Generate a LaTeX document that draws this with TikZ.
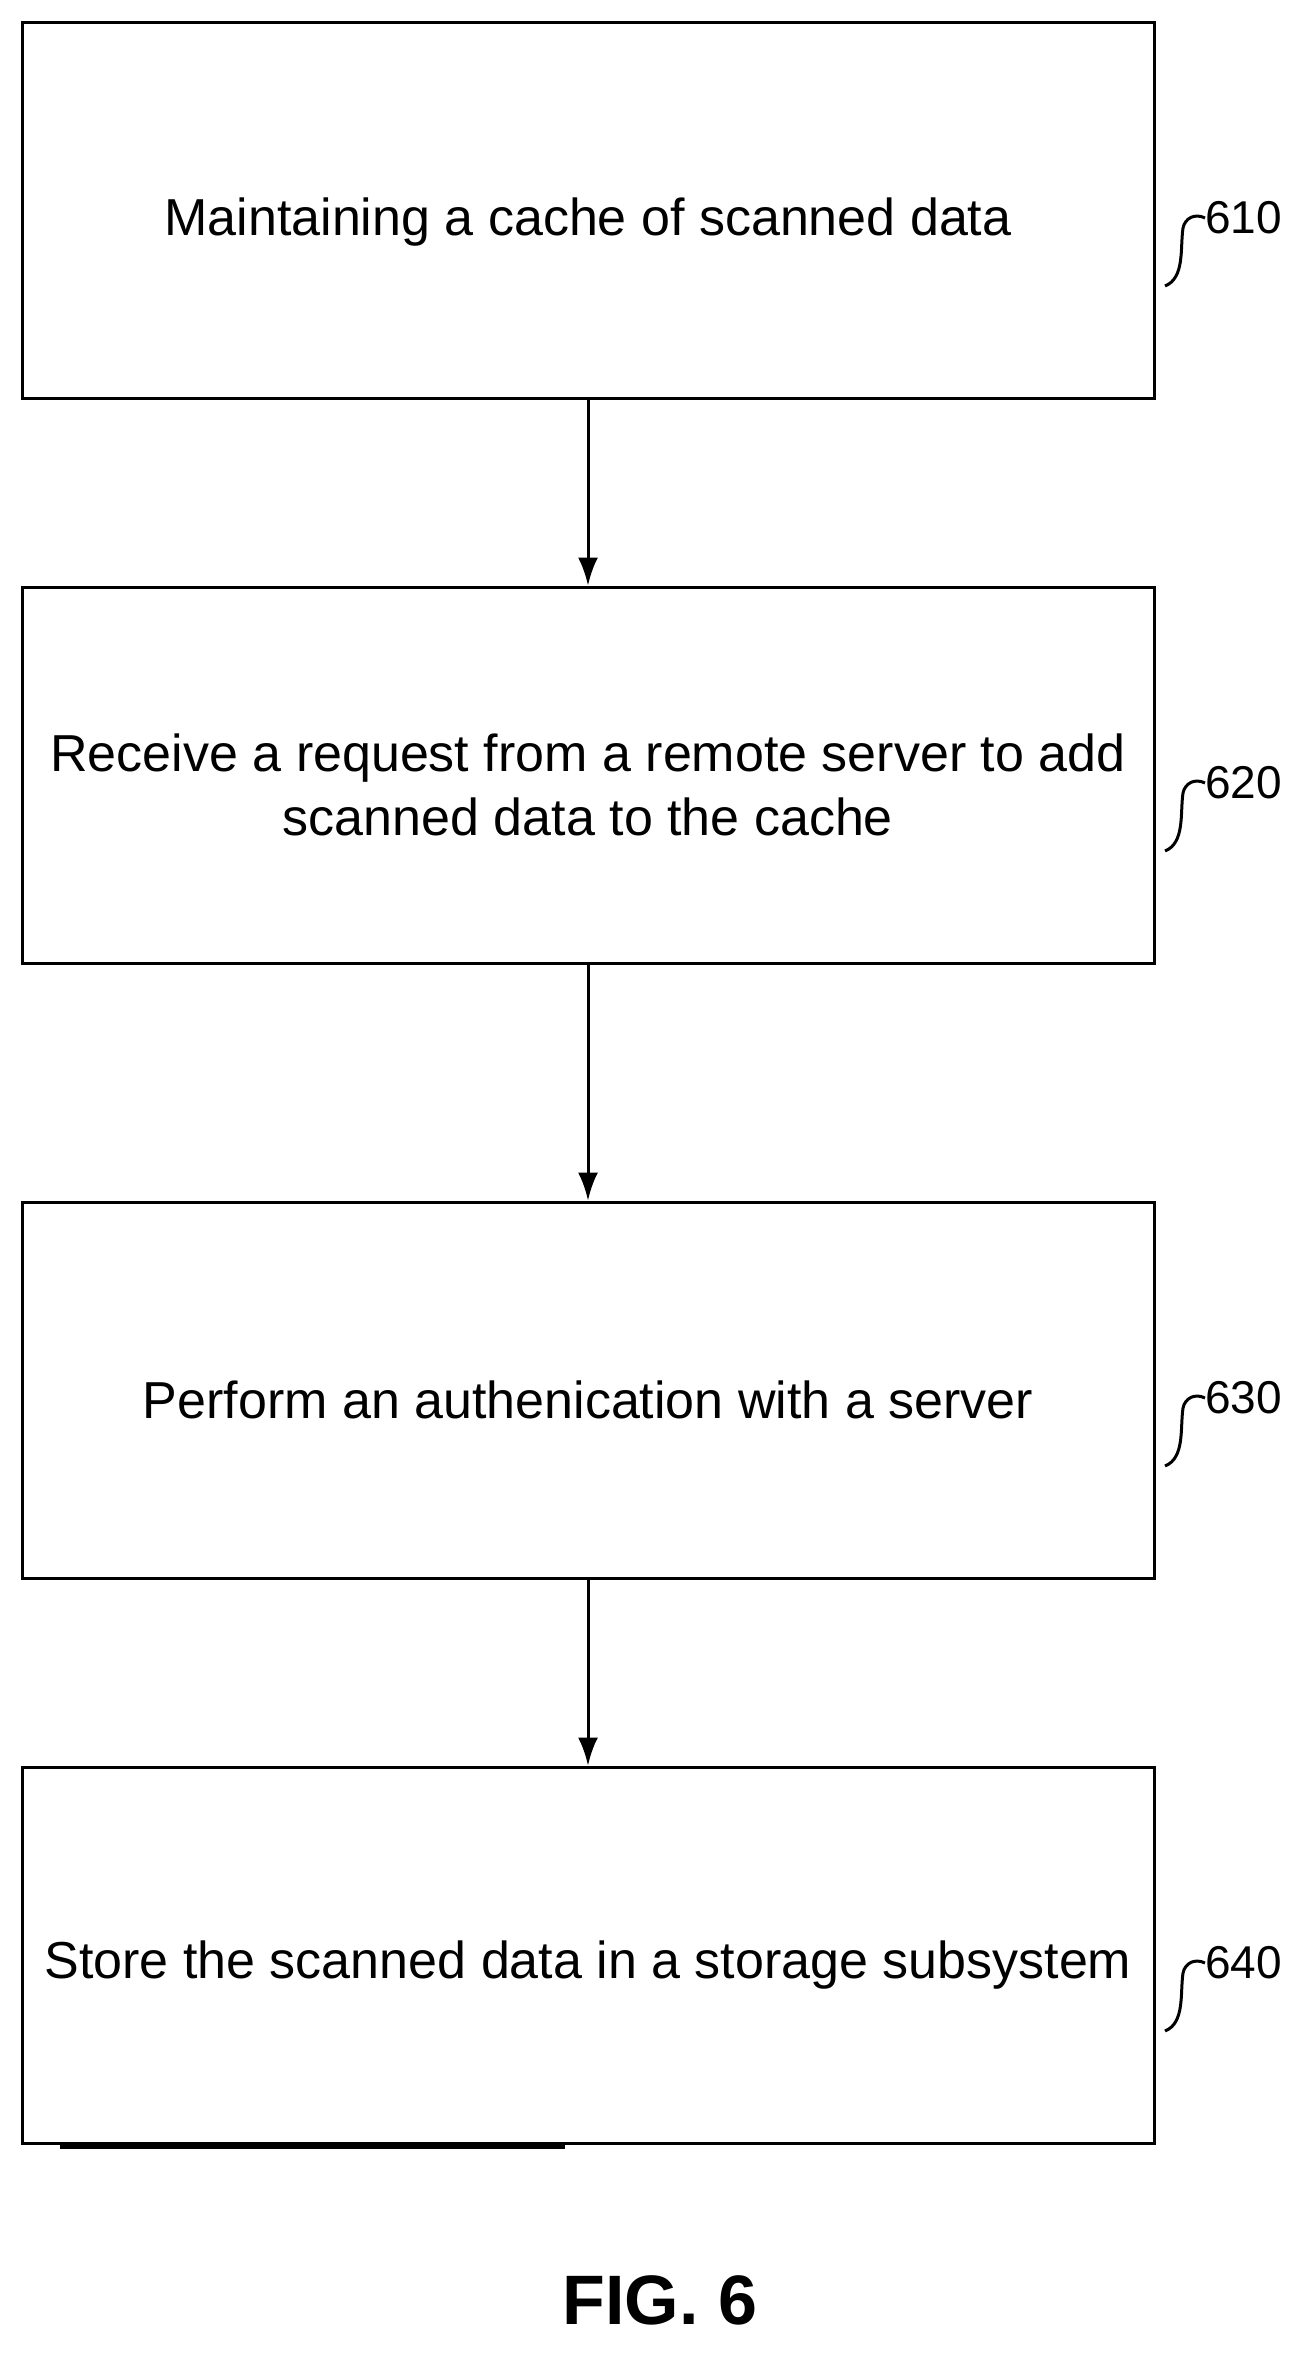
\documentclass[tikz,border=0pt]{standalone}
\usepackage{fontspec}
\setmainfont{Liberation Sans}
\usetikzlibrary{arrows.meta}
\begin{document}
\begin{tikzpicture}[x=1pt,y=-1pt,
  box/.style={draw,line width=3pt,minimum width=1132pt,minimum height=376pt,align=center,font=\fontsize{52}{64}\selectfont},
  lbl/.style={font=\fontsize{46}{54}\selectfont,anchor=west,inner sep=0pt},
  arr/.style={-{Latex[length=28pt,width=20pt]},line width=3pt}]
\useasboundingbox (0,0) rectangle (1315,2361);
\foreach \n/\y in {b1/210,b2/775,b3/1390,b4/1955}
  \node[box] (\n) at (588,\y) {};
\node[box,draw=none,minimum height=0pt] (t1) at (588,222) {Maintaining a cache of scanned data};
\node[box,draw=none,minimum height=0pt] (t2) at (588,785) {Receive a request from a remote server to add\\scanned data to the cache};
\node[box,draw=none,minimum height=0pt] (t3) at (588,1400) {Perform an authenication with a server};
\node[box,draw=none,minimum height=0pt] (t4) at (588,1965) {Store the scanned data in a storage subsystem};
\draw[arr] (b1) -- (b2);
\draw[arr] (b2) -- (b3);
\draw[arr] (b3) -- (b4);
\foreach \n/\y/\t in {l1/218/610,l2/783/620,l3/1398/630,l4/1963/640}{
  \node[lbl] (\n) at (1205,\y) {\t};
  \draw[line width=3pt] (1165,\y+68) .. controls (1185,\y+60) and (1180,\y+30) .. (1183,\y+10) .. controls (1185,\y) and (1195,\y-5) .. (\n.west);
}
\draw[line width=4pt] (60,2147) -- (565,2147);
\node[font=\fontsize{70}{80}\selectfont\bfseries] (fig) at (660,2300) {FIG. 6};
\end{tikzpicture}
\end{document}
